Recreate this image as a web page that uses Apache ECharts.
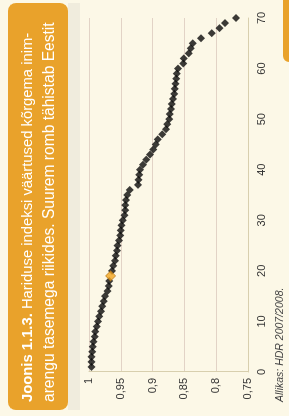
<!DOCTYPE html>
<html><head><meta charset="utf-8">
<script src="https://cdn.jsdelivr.net/npm/echarts@6/dist/echarts.min.js"></script>
<style>
html,body{margin:0;padding:0;width:289px;height:416px;overflow:hidden;background:#fcf8e7;}
#c{position:absolute;left:0;top:0;width:416px;height:289px;transform-origin:0 0;transform:translate(0,416px) rotate(-90deg);}
</style></head><body><div id="c"></div>
<script>
// Rank of country (x) and education index value (y)
const ranks = [];
for (let i = 1; i <= 70; i++) ranks.push(i);
const eduIndex = [
  0.996, 0.996, 0.996, 0.995, 0.994, 0.993, 0.991, 0.990, 0.988, 0.986,
  0.984, 0.981, 0.979, 0.977, 0.975, 0.971, 0.969, 0.968, 0.966, 0.964,
  0.962, 0.959, 0.958, 0.956, 0.955, 0.953, 0.951, 0.950, 0.949, 0.947,
  0.944, 0.943, 0.943, 0.942, 0.940, 0.936, 0.923, 0.922, 0.921, 0.920,
  0.915, 0.910, 0.904, 0.899, 0.895, 0.892, 0.885, 0.879, 0.877, 0.874,
  0.873, 0.871, 0.870, 0.868, 0.866, 0.865, 0.864, 0.863, 0.862, 0.860,
  0.852, 0.851, 0.843, 0.840, 0.837, 0.824, 0.807, 0.795, 0.786, 0.769
];
const estoniaRank = 19;
const rankTicks = [0, 10, 20, 30, 40, 50, 60, 70];
const valueTicks = [0.75, 0.8, 0.85, 0.9, 0.95, 1];
const titleBold = "Joonis 1.1.3.";
const titleLine1 = " Hariduse indeksi väärtused kõrgema inim-";
const titleLine2 = "arengu tasemega riikides. Suurem romb tähistab Eestit";
const sourceText = "Allikas: HDR 2007/2008.";

const others = [];
let estonia = [];
ranks.forEach((r, i) => {
  if (r === estoniaRank) estonia.push([r, eduIndex[i]]);
  else others.push([r, eduIndex[i]]);
});

const chart = echarts.init(document.getElementById('c'), null, {renderer: 'canvas', width: 416, height: 289});
const fmt = v => String(+(+v).toFixed(2)).replace('.', ',');
chart.setOption({
  animation: false,
  backgroundColor: '#fcf8e7',
  grid: {left: 44, right: 18, top: 89, bottom: 41},
  xAxis: {
    type: 'value', min: rankTicks[0], max: rankTicks[rankTicks.length - 1],
    interval: rankTicks[1] - rankTicks[0],
    axisLine: {show: true, lineStyle: {color: '#d8cfae', width: 1}},
    axisTick: {show: false},
    splitLine: {show: false},
    axisLabel: {fontSize: 11, color: '#333', margin: 8, fontFamily: 'Liberation Sans'}
  },
  yAxis: {
    type: 'value', min: valueTicks[0], max: valueTicks[valueTicks.length - 1],
    interval: 0.05,
    axisLine: {show: true, lineStyle: {color: '#d8cfae', width: 1}},
    axisTick: {show: false},
    splitLine: {show: true, lineStyle: {color: '#e2d3c6', width: 1}},
    axisLabel: {fontSize: 11, color: '#333', margin: 6, fontFamily: 'Liberation Sans', formatter: fmt}
  },
  graphic: [
    {type: 'rect', z: -1, shape: {x: 6, y: 68, width: 407, height: 12}, style: {fill: '#f0ecdd'}},
    {type: 'rect', shape: {x: 6, y: 8, width: 407, height: 60, r: 8}, style: {fill: '#e9a22b'}},
    {type: 'rect', shape: {x: 354, y: 283, width: 62, height: 8, r: [6, 0, 0, 0]}, style: {fill: '#e9a22b'}},
    {type: 'text', x: 14, y: 28, style: {
      text: '{b|' + titleBold + '}' + titleLine1,
      fill: '#fff', font: '14.8px "Liberation Sans"', verticalAlign: 'middle',
      rich: {b: {fontWeight: 'bold', fontSize: 14.8, fill: '#fff', fontFamily: 'Liberation Sans'}}
    }},
    {type: 'text', x: 14, y: 50, style: {
      text: titleLine2, fill: '#fff', font: '15.6px "Liberation Sans"', verticalAlign: 'middle'
    }},
    {type: 'text', x: 14, y: 280, style: {
      text: sourceText, fill: '#444', font: 'italic 10.5px "Liberation Sans"', verticalAlign: 'middle'
    }}
  ],
  series: [
    {type: 'scatter', symbol: 'diamond', symbolSize: 8, data: others,
      itemStyle: {color: '#0a0a0a'}},
    {type: 'scatter', symbol: 'diamond', symbolSize: 10, data: estonia, z: 5,
      itemStyle: {color: '#f2a51f', borderColor: '#b8781a', borderWidth: 1}}
  ]
});
</script></body></html>
